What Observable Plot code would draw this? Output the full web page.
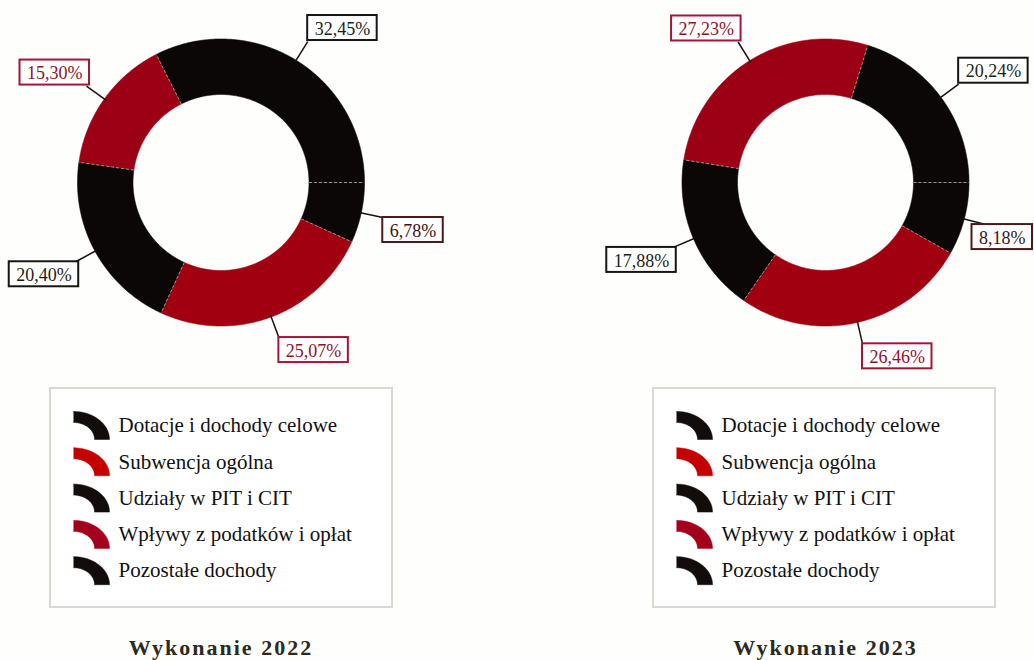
<!DOCTYPE html>
<html><head><meta charset="utf-8">
<script src="https://cdn.jsdelivr.net/npm/d3@7"></script>
<script src="https://cdn.jsdelivr.net/npm/@observablehq/plot@0.6"></script>
<style>
html,body{margin:0;padding:0;background:#fefefc;}
#chart{width:1034px;height:660px;}
</style></head><body><div id="chart"></div>
<script>
// ---- data ----
const categories = ["Dotacje i dochody celowe", "Subwencja ogólna", "Udziały w PIT i CIT", "Wpływy z podatków i opłat", "Pozostałe dochody"];
const values2022 = [6.78, 25.07, 20.40, 15.30, 32.45];
const values2023 = [8.18, 26.46, 17.88, 27.23, 20.24];
const panelTitles = ["Wykonanie 2022", "Wykonanie 2023"];

// ---- styles ----
const sliceColors = ["#0c0707", "#a0000f", "#0c0707", "#9c0014", "#0c0707"];
const legendColors = ["#120c0a", "#c40000", "#120c0a", "#a3001e", "#120c0a"];
const labelBorder = ["#4a1a1a", "#a3163a", "#151515", "#a3163a", "#151515"];
const labelText = ["#3a1414", "#8e1228", "#1e1e14", "#8e1228", "#1c2410"];

const panels = [
  {cx: 220.5, cy: 182, values: values2022, title: panelTitles[0], legendX: 50},
  {cx: 825, cy: 182, values: values2023, title: panelTitles[1], legendX: 653}
];
const W = 1034, H = 660;
const R = 143.5, r = 88, leader = 22, boxH = 25;
const fmt = v => v.toFixed(2).replace(".", ",") + "%";
const ctx = document.createElement("canvas").getContext("2d");
ctx.font = "18px 'Liberation Serif'";

const slicePts = [], bounds = [], leaders = [], boxes = [], labels = [];
const legendFrames = [], iconPts = [], legendTexts = [], titles = [];

panels.forEach((p, pi) => {
  const total = d3.sum(p.values);
  let cum = 0;
  p.values.forEach((v, i) => {
    const a0 = cum / total * 2 * Math.PI, a1 = (cum + v) / total * 2 * Math.PI;
    cum += v;
    const id = pi + "-" + i;
    const n = Math.max(2, Math.ceil((a1 - a0) / (Math.PI / 360)));
    for (let k = 0; k <= n; k++) {
      const a = a0 + (a1 - a0) * k / n;
      slicePts.push({id, color: sliceColors[i], x: p.cx + R * Math.cos(a), y: p.cy + R * Math.sin(a)});
    }
    for (let k = n; k >= 0; k--) {
      const a = a0 + (a1 - a0) * k / n;
      slicePts.push({id, color: sliceColors[i], x: p.cx + r * Math.cos(a), y: p.cy + r * Math.sin(a)});
    }
    bounds.push({x1: p.cx + r * Math.cos(a0), y1: p.cy + r * Math.sin(a0), x2: p.cx + R * Math.cos(a0), y2: p.cy + R * Math.sin(a0)});
    const am = (a0 + a1) / 2, dx = Math.cos(am), dy = Math.sin(am);
    const ex = p.cx + (R + leader) * dx, ey = p.cy + (R + leader) * dy;
    leaders.push({x1: p.cx + (R - 2) * dx, y1: p.cy + (R - 2) * dy, x2: ex, y2: ey});
    const text = fmt(v);
    const w = ctx.measureText(text).width + 14;
    let bx1 = dx >= 0 ? ex : ex + 3 - w;
    bx1 = Math.min(bx1, W - 2 - w);
    const by1 = dy >= 0 ? ey : ey - 1 - boxH;
    boxes.push({x1: bx1, x2: bx1 + w, y1: by1, y2: by1 + boxH, stroke: labelBorder[i]});
    labels.push({x: bx1 + w / 2, y: by1 + boxH / 2 + 1, text, fill: labelText[i]});
  });

  // legend
  legendFrames.push({x1: p.legendX, x2: p.legendX + 342, y1: 388, y2: 607});
  categories.forEach((c, i) => {
    const ry = 425 + i * 36.3;
    const icx = p.legendX + 23, icy = ry + 14;
    const id = "L" + pi + "-" + i;
    const m = 30;
    for (let k = 0; k <= m; k++) {
      const t = (Math.PI / 2) * k / m;
      iconPts.push({id, color: legendColors[i], x: icx + 36 * Math.sin(t), y: icy - 28 * Math.cos(t)});
    }
    for (let k = m; k >= 0; k--) {
      const t = (Math.PI / 2) * k / m;
      iconPts.push({id, color: legendColors[i], x: icx + 21 * Math.sin(t), y: icy - 17 * Math.cos(t)});
    }
    legendTexts.push({x: p.legendX + 68, y: ry, text: c});
  });
  titles.push({x: p.cx, y: 647, text: p.title});
});

const chart = Plot.plot({
  width: W,
  height: H,
  margin: 0,
  x: {type: "identity", axis: null},
  y: {type: "identity", axis: null},
  color: {type: "identity"},
  style: {background: "transparent", fontFamily: "'Liberation Serif', 'Times New Roman', serif"},
  marks: [
    Plot.line(slicePts, {x: "x", y: "y", z: "id", fill: "color", stroke: "color", strokeWidth: 0.6, curve: "linear"}),
    Plot.link(bounds, {x1: "x1", y1: "y1", x2: "x2", y2: "y2", stroke: "#b8b0a0", strokeWidth: 0.8, strokeDasharray: "3,2"}),
    Plot.link(leaders, {x1: "x1", y1: "y1", x2: "x2", y2: "y2", stroke: "#1a1010", strokeWidth: 1.5}),
    Plot.rect(boxes, {x1: "x1", x2: "x2", y1: "y1", y2: "y2", fill: "#ffffff", stroke: "stroke", strokeWidth: 2}),
    Plot.text(labels, {x: "x", y: "y", text: "text", fill: "fill", fontSize: 18}),
    Plot.rect(legendFrames, {x1: "x1", x2: "x2", y1: "y1", y2: "y2", fill: "#ffffff", stroke: "#d9d9cf", strokeWidth: 2}),
    Plot.line(iconPts, {x: "x", y: "y", z: "id", fill: "color", stroke: "color", strokeWidth: 0.5}),
    Plot.text(legendTexts, {x: "x", y: "y", text: "text", textAnchor: "start", fontSize: 21, fill: "#111111"}),
    Plot.text(titles, {x: "x", y: "y", text: "text", fontSize: 22, fontWeight: "bold", fill: "#2b2b1c"})
  ]
});
chart.querySelectorAll("text").forEach(t => {
  if (t.textContent.startsWith("Wykonanie")) t.setAttribute("letter-spacing", "2");
});
document.getElementById("chart").appendChild(chart);
</script>
</body></html>
